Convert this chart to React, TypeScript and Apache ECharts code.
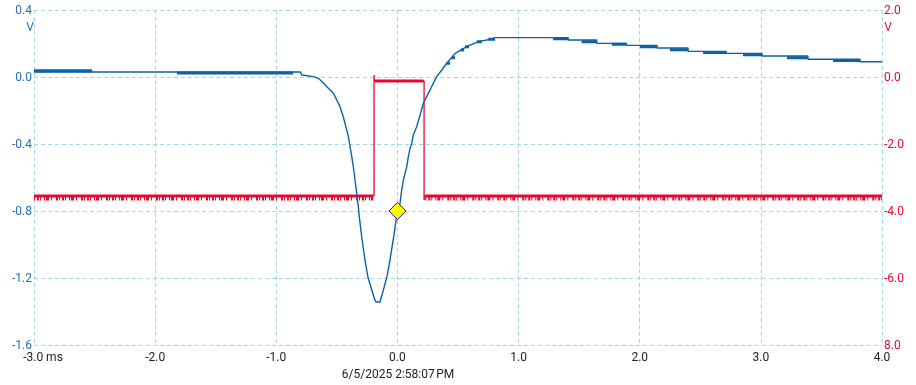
import React, { useEffect, useRef } from 'react';
import * as echarts from 'echarts';

// time in ms, value in V (left axis) — sloped part of the blue trace
const blueTrace: [number, number][] = [
  [-3.0, 0.03], [-2.0, 0.03], [-1.0, 0.03], [-0.8, 0.03], [-0.79, 0.012], [-0.694, 0.002],
  [-0.653, -0.008], [-0.612, -0.034], [-0.57, -0.067], [-0.529, -0.097], [-0.501, -0.137],
  [-0.474, -0.177], [-0.447, -0.237], [-0.433, -0.276], [-0.419, -0.316], [-0.405, -0.356],
  [-0.391, -0.416], [-0.377, -0.476], [-0.364, -0.536], [-0.35, -0.615], [-0.336, -0.695],
  [-0.323, -0.774], [-0.315, -0.834], [-0.292, -0.97], [-0.267, -1.096], [-0.243, -1.197],
  [-0.21, -1.275], [-0.185, -1.334], [-0.177, -1.343], [-0.144, -1.343], [-0.119, -1.28],
  [-0.086, -1.19], [-0.061, -1.09], [-0.03, -0.95], [0.0, -0.8], [0.021, -0.756],
  [0.035, -0.675], [0.049, -0.615], [0.063, -0.575], [0.077, -0.535], [0.09, -0.476],
  [0.104, -0.426], [0.118, -0.396], [0.131, -0.346], [0.159, -0.297], [0.187, -0.227],
  [0.214, -0.157], [0.242, -0.117], [0.269, -0.078], [0.296, -0.038], [0.324, 0.002],
  [0.366, 0.042], [0.407, 0.082], [0.476, 0.141], [0.572, 0.181], [0.668, 0.211],
  [0.779, 0.227], [0.806, 0.235],
];

// quantised tail of the blue trace: [ms where level starts, V]
const blueTail: [number, number][] = [
  [0.806, 0.235], [1.41, 0.221], [1.645, 0.201], [1.89, 0.189], [2.143, 0.173],
  [2.399, 0.153], [2.713, 0.141], [3.01, 0.125], [3.389, 0.106], [3.819, 0.091], [4.0, 0.091],
];

// quantisation-noise bands on the blue trace (drawn thicker)
const blueBands: [number, number][][] = [
  [[-3.0, 0.037], [-2.52, 0.037]],
  [[-1.82, 0.024], [-0.86, 0.024]],
  [[0.407, 0.082], [0.434, 0.082]],
  [[0.448, 0.115], [0.476, 0.115]],
  [[0.523, 0.161], [0.55, 0.161]],
  [[0.558, 0.181], [0.591, 0.181]],
  [[0.655, 0.211], [0.696, 0.211]],
  [[0.75, 0.226], [0.806, 0.226]],
  [[1.285, 0.228], [1.41, 0.228]],
  [[1.52, 0.211], [1.645, 0.211]],
  [[1.77, 0.195], [1.89, 0.195]],
  [[2.003, 0.181], [2.143, 0.181]],
  [[2.25, 0.163], [2.399, 0.163]],
  [[2.523, 0.147], [2.713, 0.147]],
  [[2.853, 0.133], [3.01, 0.133]],
  [[3.216, 0.115], [3.389, 0.115]],
  [[3.596, 0.098], [3.819, 0.098]],
];

// time in ms, value in V (right axis)
const redTrace: [number, number][] = [
  [-3.0, -3.55], [-0.193, -3.55], [-0.193, 0.06], [-0.19, -0.12], [0.22, -0.12],
  [0.22, -3.67], [0.23, -3.55], [4.0, -3.55],
];
const redBands: [number, number][][] = [
  [[-3.0, -3.55], [-0.2, -3.55]],
  [[-0.185, -0.12], [0.215, -0.12]],
  [[0.23, -3.55], [4.0, -3.55]],
];
// ragged noise edge under the red baseline
const redNoise: [number, number][][] = [
  [[-3.0, -3.63], [-0.2, -3.63]],
  [[0.23, -3.63], [4.0, -3.63]],
];

const markerPoint: [number, number][] = [[0.0, -0.8]];

const xMin = -3, xMax = 4, xStep = 1;
const leftMin = -1.6, leftMax = 0.4, leftStep = 0.4;
const rightMin = -8, rightMax = 2, rightStep = 2;
const dateLabel = '6/5/2025 2:58:07\u202FPM';

const BLUE = '#0a62a8';
const RED = '#e8082f';
const GRID = '#a3d6e6';
const FONT = 'Roboto, "Noto Sans", sans-serif';

export default function App() {
  const ref = useRef<HTMLDivElement>(null);
  useEffect(() => {
    if (!ref.current) return;
    const chart = echarts.init(ref.current, null, { renderer: 'svg' });
    const splitLine = { show: true, lineStyle: { color: GRID, type: [4, 3] as any, width: 1 } };
    const series: any[] = [];
    series.push({
      type: 'line', yAxisIndex: 1, data: redTrace, symbol: 'none',
      lineStyle: { color: RED, width: 1.3 }, z: 2,
    });
    redBands.forEach((b) => series.push({
      type: 'line', yAxisIndex: 1, data: b, symbol: 'none',
      lineStyle: { color: RED, width: 3 }, z: 2,
    }));
    redNoise.forEach((b) => series.push({
      type: 'line', yAxisIndex: 1, data: b, symbol: 'none',
      lineStyle: { color: RED, width: 4, type: [1, 2, 2, 1, 1, 3, 1, 1, 3, 2, 1, 4, 2, 1] as any },
      z: 2,
    }));
    series.push({
      type: 'line', yAxisIndex: 0, data: blueTrace, symbol: 'none',
      lineStyle: { color: BLUE, width: 1.4 }, z: 3,
    });
    series.push({
      type: 'line', yAxisIndex: 0, data: blueTail, symbol: 'none', step: 'end',
      lineStyle: { color: BLUE, width: 1.4 }, z: 3,
    });
    blueBands.forEach((b) => series.push({
      type: 'line', yAxisIndex: 0, data: b, symbol: 'none',
      lineStyle: { color: BLUE, width: 3 }, z: 3,
    }));
    series.push({
      type: 'scatter', yAxisIndex: 0, data: markerPoint, symbol: 'diamond', symbolSize: [17, 17],
      itemStyle: { color: '#ffff00', borderColor: '#1c1ca8', borderWidth: 1, opacity: 1 }, z: 5,
    });

    chart.setOption({
      animation: false,
      textStyle: { fontFamily: FONT },
      grid: { left: 34, right: 34, top: 10, bottom: 40, containLabel: false },
      xAxis: {
        type: 'value', min: xMin, max: xMax, interval: xStep,
        axisLine: { show: false }, axisTick: { show: false },
        splitLine,
        axisLabel: {
          margin: 6, color: '#222', fontSize: 12, fontFamily: FONT,
          formatter: (v: number) => (v === xMin ? '{m|' + v.toFixed(1) + ' ms}' : v.toFixed(1)),
          rich: { m: { padding: [0, 0, 0, 18], fontSize: 12, color: '#222', fontFamily: FONT } },
        },
      },
      yAxis: [
        {
          type: 'value', min: leftMin, max: leftMax, interval: leftStep, position: 'left',
          axisLine: { show: false }, axisTick: { show: false }, splitLine,
          axisLabel: {
            margin: 2, color: '#2a6db5', fontSize: 12, fontFamily: FONT,
            formatter: (v: number) => v.toFixed(1),
          },
        },
        {
          type: 'value', min: rightMin, max: rightMax, interval: rightStep, position: 'right',
          axisLine: { show: false }, axisTick: { show: false }, splitLine: { show: false },
          axisLabel: {
            margin: 2, color: RED, fontSize: 12, fontFamily: FONT,
            formatter: (v: number) => (v === rightMin ? Math.abs(v).toFixed(1) : v.toFixed(1)),
          },
        },
      ],
      graphic: [
        { type: 'text', x: 30, y: 27, style: { text: 'V', fill: '#2a6db5', font: '12px ' + FONT, align: 'center', verticalAlign: 'middle' } },
        { type: 'text', x: 888, y: 27, style: { text: 'V', fill: RED, font: '12px ' + FONT, align: 'center', verticalAlign: 'middle' } },
        { type: 'text', x: 398, y: 374, style: { text: dateLabel, fill: '#222', font: '12px ' + FONT, align: 'center', verticalAlign: 'middle' } },
      ],
      series,
    });
    return () => chart.dispose();
  }, []);
  return <div ref={ref} style={{ position: 'fixed', left: 0, top: 0, width: 916, height: 385 }} />;
}
